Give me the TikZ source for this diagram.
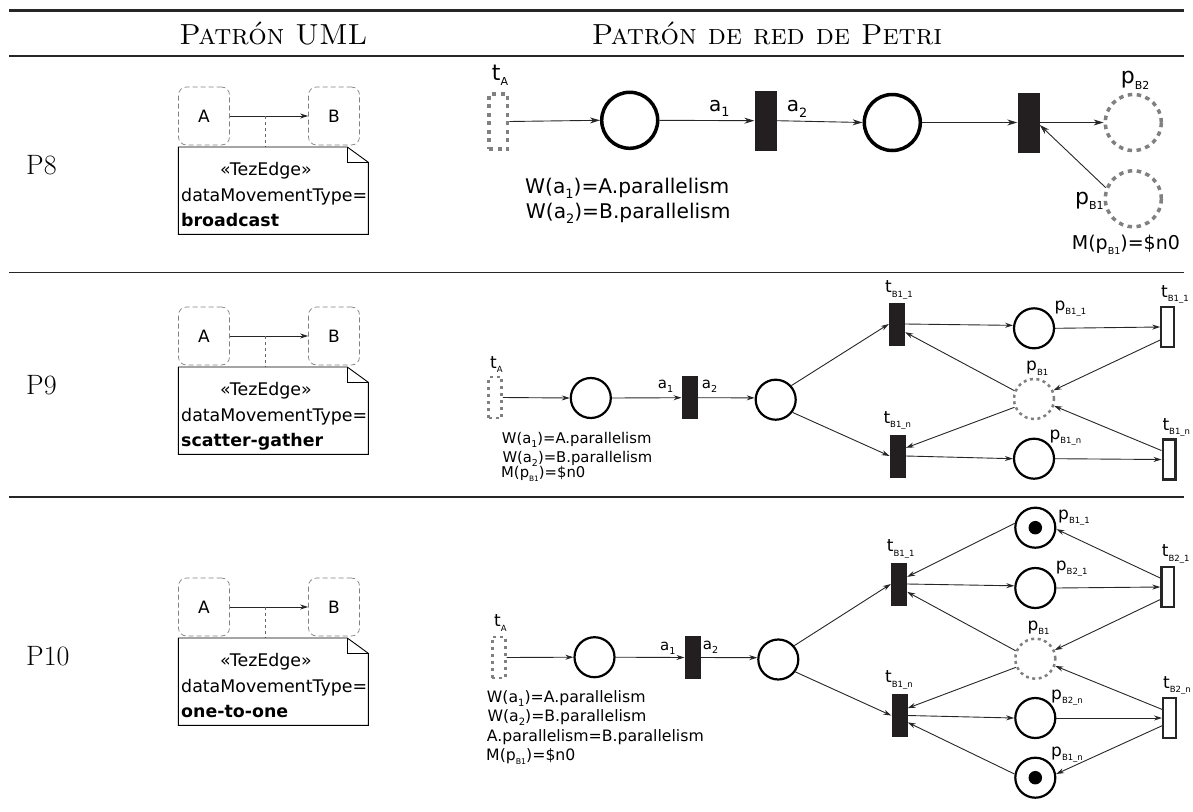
\documentclass[tikz,border=0pt]{standalone}
\usepackage{fontspec}
\setsansfont{DejaVu Sans}
\usetikzlibrary{arrows.meta,shapes.geometric}
\definecolor{barblack}{RGB}{35,31,32}
\definecolor{dashgray}{RGB}{128,128,128}
\newcommand{\subl}[2]{#1\raisebox{-0.27em}{\scalebox{0.5}{#2}}}
\newcommand{\suba}[2]{#1\raisebox{-0.27em}{\scalebox{0.64}{#2}}}
\tikzset{
  hrule/.style={line width=#1,black!85},
  rowhead/.style={font=\fontsize{29}{32}\selectfont},
  bigtxt/.style={anchor=base west,inner sep=0pt,font=\fontsize{28}{30}\selectfont\rmfamily},
  umlbox/.style={draw=black!50,dash pattern=on 5pt off 3pt,line width=0.7pt,rounded corners=8pt,minimum width=51pt,minimum height=58pt,inner sep=0pt,font=\fontsize{17}{20}\selectfont\sffamily},
  umlnote/.style={draw=black,line width=0.9pt,fill=white},
  notetxt/.style={inner sep=0pt,anchor=base,font=\fontsize{17.4}{20}\selectfont\sffamily},
  flow/.style={-{Stealth[length=8pt,width=5pt]},line width=0.9pt,black!85},
  flowL/.style={-{Stealth[length=10pt,width=6pt]},line width=0.9pt,black!85},
  placeL/.style={ellipse,draw=black,line width=3.5pt,inner sep=0pt,minimum width=56pt,minimum height=56pt},
  placeS/.style={ellipse,draw=black,line width=2.2pt,inner sep=0pt,minimum width=40pt,minimum height=40pt},
  ghostL/.style={placeL,draw=dashgray,dash pattern=on 4.5pt off 4.5pt},
  ghostS/.style={placeS,draw=dashgray,line width=2.5pt,dash pattern=on 3pt off 3.5pt},
  barL/.style={rectangle,fill=barblack,inner sep=0pt,minimum width=22pt,minimum height=60pt},
  barS/.style={rectangle,fill=barblack,inner sep=0pt,minimum width=16pt,minimum height=43pt},
  transS/.style={rectangle,draw=black!85,fill=white,line width=2.2pt,inner sep=0pt,minimum width=12.8pt,minimum height=40pt},
  ghostbarL/.style={rectangle,draw=dashgray,line width=3.5pt,dash pattern=on 4pt off 4.5pt,inner sep=0pt,minimum width=18.5pt,minimum height=55pt},
  ghostbarS/.style={rectangle,draw=dashgray,line width=2.5pt,dash pattern=on 3pt off 4pt,inner sep=0pt,minimum width=13pt,minimum height=41pt},
  token/.style={circle,fill=black,inner sep=0pt,minimum size=13.5pt},
  txtL/.style={inner sep=0pt,anchor=base west,font=\fontsize{22}{24}\selectfont\sffamily},
  txtA/.style={inner sep=0pt,anchor=base west,font=\fontsize{20}{22}\selectfont\sffamily},
  txtM/.style={inner sep=0pt,anchor=base west,font=\fontsize{17}{19}\selectfont\sffamily},
  txtB/.style={inner sep=0pt,anchor=base west,font=\fontsize{15}{17}\selectfont\sffamily},
  txtW/.style={inner sep=0pt,anchor=base west,font=\fontsize{20.2}{22}\selectfont\sffamily},
  txtQ/.style={inner sep=0pt,anchor=base west,font=\fontsize{19}{22}\selectfont\sffamily},
  txtN/.style={inner sep=0pt,anchor=base west,font=\fontsize{14.8}{16}\selectfont\sffamily},
  txtK/.style={inner sep=0pt,anchor=base west,font=\fontsize{15.7}{17}\selectfont\sffamily},
}
\begin{document}
\begin{tikzpicture}[x=1pt,y=-1pt]
\useasboundingbox (0,0) rectangle (1193,811);

% rules
\coordinate (r1a) at (9,10); \coordinate (r1b) at (1184,10);
\coordinate (r2a) at (9,56); \coordinate (r2b) at (1184,56);
\coordinate (r3a) at (9,272.5); \coordinate (r3b) at (1184,272.5);
\coordinate (r4a) at (9,497); \coordinate (r4b) at (1184,497);
\draw[hrule=3pt] (r1a) -- (r1b);
\draw[hrule=2.2pt] (r2a) -- (r2b);
\draw[hrule=1.5pt] (r3a) -- (r3b);
\draw[hrule=1.5pt] (r4a) -- (r4b);

\node[rowhead,anchor=base] (headuml) at (273.5,44.3) {\textsc{Patrón UML}};
\node[rowhead,anchor=base] (headpetri) at (767,44.3) {\textsc{Patrón de red de Petri}};

\node[bigtxt] (labP8) at (26,174) {P8};
\node[bigtxt] (labP9) at (26,394) {P9};
\node[bigtxt] (labP10) at (26,665) {P10};

% UML P8
\node[umlbox] (a8) at (204,116) {A};
\node[umlbox] (b8) at (334,116) {B};
\draw[flow] (a8) -- (b8);
\coordinate (mid8) at (265,116);
\coordinate (note8) at (265,147);
\draw[dashed,black!60,line width=0.8pt] (mid8) -- (note8);
\draw[umlnote] (178.3,147) -- (347.3,147) -- (368.3,162.3) -- (368.3,234.3) -- (178.3,234.3) -- cycle;
\draw[black,line width=0.6pt] (347.3,147) -- (347.3,162.3) -- (368.3,162.3);
\node[notetxt] (st8) at (266,175.7) {«TezEdge»};
\node[notetxt,anchor=base west] (dm8) at (181,201) {dataMovementType=};
\node[notetxt,anchor=base west] (ty8) at (181,226.7) {\textbf{broadcast}};

% UML P9
\node[umlbox] (a9) at (204,336) {A};
\node[umlbox] (b9) at (334,336) {B};
\draw[flow] (a9) -- (b9);
\coordinate (mid9) at (265,336);
\coordinate (note9) at (265,367);
\draw[dashed,black!60,line width=0.8pt] (mid9) -- (note9);
\draw[umlnote] (178.3,367) -- (347.3,367) -- (368.3,382.3) -- (368.3,454.3) -- (178.3,454.3) -- cycle;
\draw[black,line width=0.6pt] (347.3,367) -- (347.3,382.3) -- (368.3,382.3);
\node[notetxt] (st9) at (266,395.7) {«TezEdge»};
\node[notetxt,anchor=base west] (dm9) at (181,421) {dataMovementType=};
\node[notetxt,anchor=base west] (ty9) at (181,446.7) {\textbf{scatter-gather}};

% UML P10
\node[umlbox] (a10) at (204,607) {A};
\node[umlbox] (b10) at (334,607) {B};
\draw[flow] (a10) -- (b10);
\coordinate (mid10) at (265,607);
\coordinate (note10) at (265,638);
\draw[dashed,black!60,line width=0.8pt] (mid10) -- (note10);
\draw[umlnote] (178.3,638) -- (347.3,638) -- (368.3,653.3) -- (368.3,725.3) -- (178.3,725.3) -- cycle;
\draw[black,line width=0.6pt] (347.3,638) -- (347.3,653.3) -- (368.3,653.3);
\node[notetxt] (st10) at (266,666.7) {«TezEdge»};
\node[notetxt,anchor=base west] (dm10) at (181,692) {dataMovementType=};
\node[notetxt,anchor=base west] (ty10) at (181,717.7) {\textbf{one-to-one}};

% Petri P8
\node[ghostbarL] (tA8) at (498.3,121.5) {};
\node[placeL] (pa8) at (629.7,120.3) {};
\node[barL] (ba8) at (765.5,120.7) {};
\node[placeL] (pc8) at (892.3,122.5) {};
\node[barL] (bc8) at (1028.5,122.5) {};
\node[ghostL] (pB28) at (1133.3,122.5) {};
\node[ghostL] (pB18) at (1133.3,198.8) {};
\draw[flowL] (tA8.east) -- (pa8.west);
\draw[flowL] (pa8.east) -- (ba8.west);
\draw[flowL] (ba8.east) -- (pc8.west);
\draw[flowL] (pc8.east) -- (bc8.west);
\draw[flowL] (bc8.east) -- (pB28.west);
\draw[flowL] (pB18.158) -- (bc8.-12);
\node[txtL] (ltA8) at (491.7,80) {\subl{t}{A}};
\node[txtA] (la18) at (709,111) {\suba{a}{1}};
\node[txtA] (la28) at (786.7,111.7) {\suba{a}{2}};
\node[txtL] (lpB28) at (1120.7,83.3) {\subl{p}{B2}};
\node[txtL] (lpB18) at (1075,204) {\subl{p}{B1}};
\node[txtW] (w18) at (525,193.3) {W(\suba{a}{1})=A.parallelism};
\node[txtW] (w28) at (525.7,218.3) {W(\suba{a}{2})=B.parallelism};
\node[txtQ] (m8) at (1071.7,249.3) {M(\subl{p}{B1})=\$n0};

% Petri P9
\node[ghostbarS] (tA9) at (495,397.5) {};
\node[placeS] (pa9) at (590.8,398) {};
\node[barS] (ba9) at (689.7,397.7) {};
\node[placeS] (pc9) at (775.7,399.7) {};
\node[barS] (bt9) at (897,324) {};
\node[barS] (bb9) at (897.8,456) {};
\node[placeS] (pt9) at (1034,328.3) {};
\node[ghostS] (pB19) at (1034,399) {};
\node[placeS] (pb9) at (1034,458.7) {};
\node[transS] (tt9) at (1167.7,327) {};
\node[transS] (tb9) at (1169,459.5) {};
\draw[flow] (tA9.east) -- (pa9.west);
\draw[flow] (pa9.east) -- (ba9.west);
\draw[flow] (ba9.east) -- (pc9.175);
\draw[flow] (pc9.42) -- (bt9.west);
\draw[flow] (pc9.-37) -- (bb9.west);
\draw[flow] (bt9.east) -- (pt9.172);
\draw[flow] (bb9.east) -- (pb9.west);
\draw[flow] (pt9.east) -- (tt9.west);
\draw[flow] (pb9.east) -- (tb9.west);
\draw[flow] (tt9.240) -- (pB19.24);
\draw[flow] (tb9.130) -- (pB19.-19);
\draw[flow] (pB19.157) -- (bt9.-45);
\draw[flow] (pB19.203) -- (bb9.45);
\node[txtM] (ltA9) at (490,368.3) {\subl{t}{A}};
\node[txtB] (la19) at (657.7,388.3) {\suba{a}{1}};
\node[txtB] (la29) at (701.7,388.3) {\suba{a}{2}};
\node[txtM] (ltt9) at (885,292.7) {\subl{t}{B1\_1}};
\node[txtM] (ltb9) at (883.3,423.3) {\subl{t}{B1\_n}};
\node[txtM] (lpt9) at (1054.3,310) {\subl{p}{B1\_1}};
\node[txtM] (lpB19) at (1026,370.7) {\subl{p}{B1}};
\node[txtM] (lpb9) at (1049.3,439) {\subl{p}{B1\_n}};
\node[txtM] (lrt9) at (1161,297.3) {\subl{t}{B1\_1}};
\node[txtM] (lrb9) at (1162.3,430) {\subl{t}{B1\_n}};
\node[txtN] (w19) at (501.7,443.3) {W(\suba{a}{1})=A.parallelism};
\node[txtN] (w29) at (502.3,462.3) {W(\suba{a}{2})=B.parallelism};
\node[txtN] (m9) at (501,477.3) {M(\subl{p}{B1})=\$n0};

% Petri P10
\node[ghostbarS] (tA10) at (498.8,657.5) {};
\node[placeS] (pa10) at (594.5,657.2) {};
\node[barS] (ba10) at (692.7,657.5) {};
\node[placeS] (pc10) at (778.3,659.5) {};
\node[barS] (bt10) at (899,584) {};
\node[barS] (bb10) at (899.5,715.5) {};
\node[placeS] (kt10) at (1035.3,527.7) {};
\node[token] (ktt10) at (1035.3,527.7) {};
\node[placeS] (pt10) at (1035.3,588) {};
\node[ghostS] (pB110) at (1035.3,658.7) {};
\node[placeS] (pb10) at (1035.3,718) {};
\node[placeS] (kb10) at (1035.3,777.7) {};
\node[token] (kbb10) at (1035.3,777.7) {};
\node[transS] (tt10) at (1167.8,587) {};
\node[transS] (tb10) at (1169.5,718) {};
\draw[flow] (tA10.east) -- (pa10.west);
\draw[flow] (pa10.east) -- (ba10.west);
\draw[flow] (ba10.east) -- (pc10.175);
\draw[flow] (pc10.41) -- (bt10.west);
\draw[flow] (pc10.-36) -- (bb10.west);
\draw[flow] (bt10.east) -- (pt10.174);
\draw[flow] (bb10.east) -- (pb10.west);
\draw[flow] (pt10.east) -- (tt10.west);
\draw[flow] (pb10.east) -- (tb10.west);
\draw[flow] (kt10.168) -- (bt10.41);
\draw[flow] (tt10.130) -- (kt10.-4);
\draw[flow] (tt10.239) -- (pB110.24);
\draw[flow] (tb10.131) -- (pB110.-20);
\draw[flow] (pB110.158) -- (bt10.-44);
\draw[flow] (pB110.204) -- (bb10.42);
\draw[flow] (kb10.170) -- (bb10.-40);
\draw[flow] (tb10.226) -- (kb10.10);
\node[txtM] (ltA10) at (494,626.7) {\subl{t}{A}};
\node[txtB] (la110) at (660,650.7) {\suba{a}{1}};
\node[txtB] (la210) at (702.7,649.3) {\suba{a}{2}};
\node[txtM] (ltt10) at (886.7,551.7) {\subl{t}{B1\_1}};
\node[txtM] (ltb10) at (885,682.7) {\subl{t}{B1\_n}};
\node[txtM] (lkt10) at (1058,519) {\subl{p}{B1\_1}};
\node[txtM] (lpt10) at (1055.7,570) {\subl{p}{B2\_1}};
\node[txtM] (lpB110) at (1027.3,630) {\subl{p}{B1}};
\node[txtM] (lpb10) at (1051,699) {\subl{p}{B2\_n}};
\node[txtM] (lkb10) at (1051,756) {\subl{p}{B1\_n}};
\node[txtM] (lrt10) at (1161.7,556.7) {\subl{t}{B2\_1}};
\node[txtM] (lrb10) at (1163,688) {\subl{t}{B2\_n}};
\node[txtK] (w110) at (486.7,702.7) {W(\suba{a}{1})=A.parallelism};
\node[txtK] (w210) at (487.3,721.7) {W(\suba{a}{2})=B.parallelism};
\node[txtK] (e10) at (486.7,741.7) {A.parallelism=B.parallelism};
\node[txtK] (m10) at (486,760.7) {M(\subl{p}{B1})=\$n0};

\end{tikzpicture}
\end{document}
